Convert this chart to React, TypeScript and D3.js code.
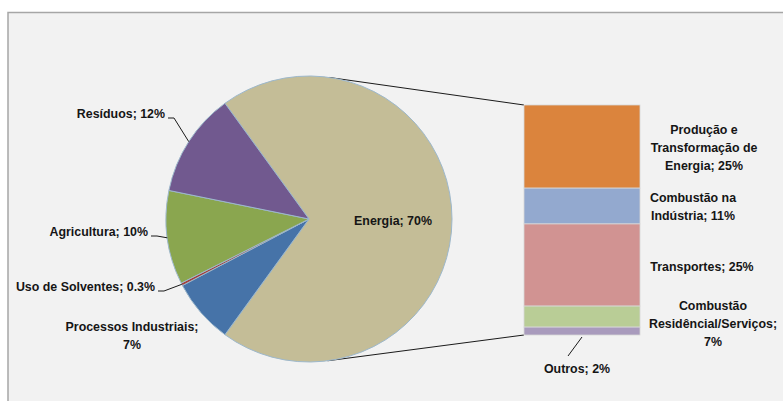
import React from "react";
import * as d3 from "d3";

// Pie data (clockwise starting at the Energia slice)
const pieLabels = ["Energia", "Processos Industriais", "Uso de Solventes", "Agricultura", "Resíduos"];
const pieValues = [70, 7.3, 0.3, 10.6, 11.8];
const pieTexts = ["Energia; 70%", "Processos Industriais;|7%", "Uso de Solventes; 0.3%", "Agricultura; 10%", "Resíduos; 12%"];
const pieColors = ["#c4bd97", "#4673a8", "#a4403d", "#8aa64f", "#71598f"];

// Bar (breakdown of Energia)
const barLabels = ["Produção e Transformação de Energia", "Combustão na Indústria", "Transportes", "Combustão Residêncial/Serviços", "Outros"];
const barValues = [25.3, 10.9, 25, 6.4, 2.4];
const barTexts = ["Produção e|Transformação de|Energia; 25%", "Combustão na|Indústria; 11%", "Transportes; 25%", "Combustão|Residêncial/Serviços;|7%", "Outros; 2%"];
const barColors = ["#db843d", "#93a9cf", "#d19392", "#b9cd96", "#a99bbd"];

const W = 783;
const H = 401;
const FONT = "'Liberation Sans', Arial, sans-serif";

export default function App() {
  const cx = 309;
  const cy = 219;
  const r = 143;
  const energiaAngle = (pieValues[0] / d3.sum(pieValues)) * 2 * Math.PI;
  const start = Math.PI / 2 - energiaAngle / 2;
  const pie = d3.pie<number>().sort(null).startAngle(start).endAngle(start + 2 * Math.PI);
  const arcs = pie(pieValues);
  const arcGen = d3.arc<d3.PieArcDatum<number>>().innerRadius(0).outerRadius(r);
  const onEdge = (a: number, rr = r) => [cx + rr * Math.sin(a), cy - rr * Math.cos(a)];

  // Bar geometry
  const barX0 = 524;
  const barX1 = 640;
  const y = d3.scaleLinear().domain([0, d3.sum(barValues)]).range([105, 335]);
  const cum = [0, ...Array.from(d3.cumsum(barValues))];

  // tangent points from bar corners to circle
  const tangent = (px: number, py: number, upper: boolean) => {
    const dx = px - cx;
    const dy = py - cy;
    const d = Math.hypot(dx, dy);
    const base = Math.atan2(dy, dx);
    const off = Math.acos(r / d);
    const a = upper ? base - off : base + off;
    return [cx + r * Math.cos(a), cy + r * Math.sin(a)];
  };
  const tTop = tangent(barX0, y(0), true);
  const tBot = tangent(barX0, y(cum[cum.length - 1]), false);

  const mid = (i: number) => (arcs[i].startAngle + arcs[i].endAngle) / 2;

  // label layout (text anchor positions)
  const pieLabelPos: [number, number, string][] = [
    [393, 221, "middle"],
    [132, 327, "middle"],
    [155, 287, "end"],
    [148, 232, "end"],
    [165, 114, "end"],
  ];
  const barLabelPos: [number, number][] = [
    [704, 130],
    [693, 198],
    [702, 267],
    [713, 306],
    [577, 369],
  ];

  const lines = (t: string) => t.split("|");
  const textStyle = { fontFamily: FONT, fontWeight: 700, fontSize: 12.4, fill: "#151515" } as const;

  const leader = (i: number) => {
    const [ex, ey] = onEdge(mid(i));
    const [lx, ly] = pieLabelPos[i];
    const sx = lx + 3;
    const sy = ly + 4;
    const kx = sx + 6;
    return `M${sx},${sy}L${kx},${sy}L${ex},${ey}`;
  };

  return (
    <svg width={W} height={H} style={{ position: "absolute", left: 0, top: 0, background: "#ffffff" }}>
      <rect x={8} y={12.5} width={790} height={400} fill="#f2f2f2" stroke="#a6a6a6" strokeWidth={1.5} />

      {/* connector lines */}
      <line x1={tTop[0]} y1={tTop[1]} x2={barX0} y2={y(0)} stroke="#1a1a1a" strokeWidth={1} />
      <line x1={tBot[0]} y1={tBot[1]} x2={barX0} y2={y(cum[cum.length - 1])} stroke="#1a1a1a" strokeWidth={1} />

      {/* pie */}
      <g transform={`translate(${cx},${cy})`}>
        {arcs.map((a, i) => (
          <path key={pieLabels[i]} d={arcGen(a) || ""} fill={pieColors[i]} stroke="#9db8cc" strokeWidth={1} strokeLinejoin="round" />
        ))}
      </g>

      {/* bar */}
      {barValues.map((v, i) => (
        <rect
          key={barLabels[i]}
          x={barX0}
          y={y(cum[i])}
          width={barX1 - barX0}
          height={y(cum[i + 1]) - y(cum[i])}
          fill={barColors[i]}
          stroke="#d8d8d8"
          strokeWidth={0.8}
        />
      ))}

      {/* pie leader lines */}
      {[2, 3, 4].map((i) => (
        <path key={"ld" + i} d={leader(i)} fill="none" stroke="#1a1a1a" strokeWidth={1} />
      ))}
      {/* Outros leader */}
      <line
        x1={(barX0 + barX1) / 2}
        y1={y(cum[cum.length - 1]) + 2}
        x2={(barX0 + barX1) / 2 - 14}
        y2={y(cum[cum.length - 1]) + 21}
        stroke="#1a1a1a"
        strokeWidth={1}
      />

      {/* pie labels */}
      {pieTexts.map((t, i) => (
        <text key={"pl" + i} x={pieLabelPos[i][0]} y={pieLabelPos[i][1]} textAnchor={pieLabelPos[i][2] as any} dominantBaseline="central" style={textStyle}>
          {lines(t).map((s, j) => (
            <tspan key={j} x={pieLabelPos[i][0]} dy={j === 0 ? 0 : 18}>
              {s}
            </tspan>
          ))}
        </text>
      ))}

      {/* bar labels */}
      {barTexts.map((t, i) => (
        <text key={"bl" + i} x={barLabelPos[i][0]} y={barLabelPos[i][1]} textAnchor="middle" dominantBaseline="central" style={textStyle}>
          {lines(t).map((s, j) => (
            <tspan key={j} x={barLabelPos[i][0]} dy={j === 0 ? 0 : 18}>
              {s}
            </tspan>
          ))}
        </text>
      ))}
    </svg>
  );
}
